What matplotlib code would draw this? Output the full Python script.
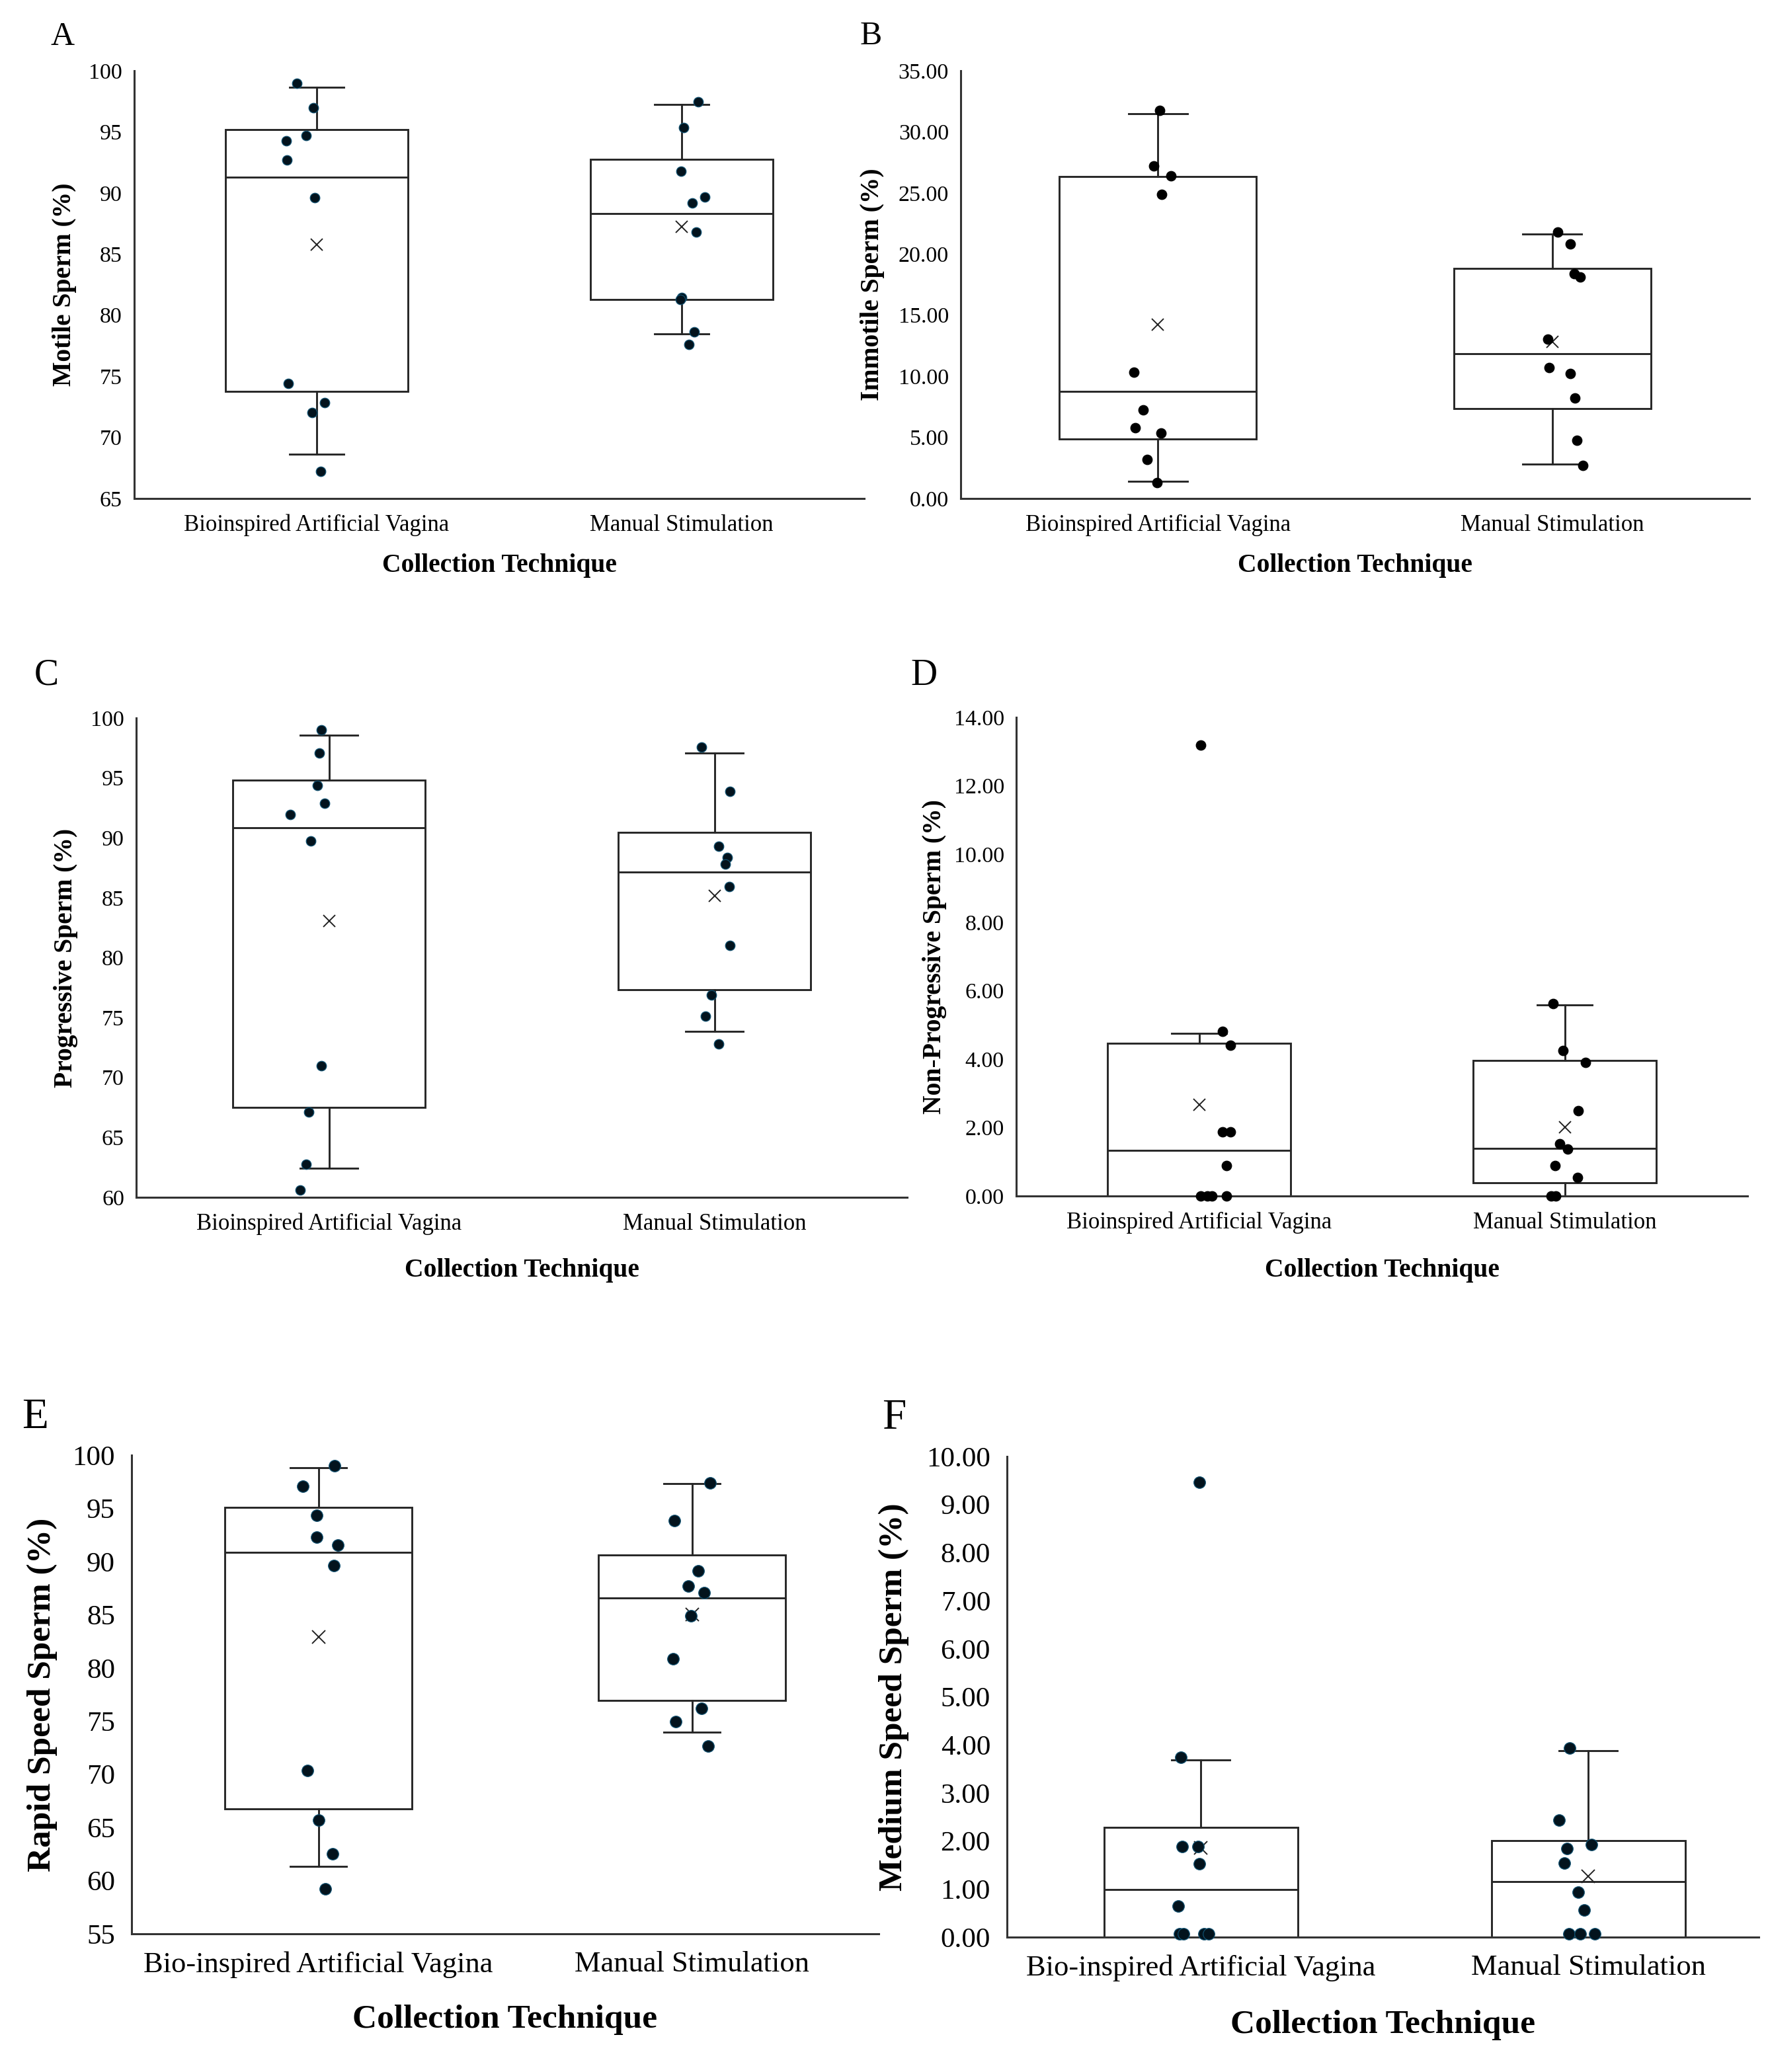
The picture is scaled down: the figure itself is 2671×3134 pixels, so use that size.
import matplotlib
matplotlib.use("Agg")
import matplotlib.pyplot as plt
from matplotlib.ticker import FormatStrFormatter

plt.rcParams["font.family"] = ["Liberation Serif", "DejaVu Serif"]

W, H = 2671, 3134

groups = ["Bioinspired Artificial Vagina", "Manual Stimulation"]
groups_ef = ["Bio-inspired Artificial Vagina", "Manual Stimulation"]

# box stats per group: whisker low, q1, median, q3, whisker high, mean

# A - motile
motile_bav = [98.97, 96.95, 94.28, 94.68, 92.70, 89.59, 74.42, 72.83, 72.02, 67.24]
motile_ms = [97.48, 95.34, 91.76, 89.65, 89.18, 86.79, 81.47, 81.26, 78.61, 77.59]
motile_box_bav = [68.60, 73.76, 91.30, 95.18, 98.66, 85.76]
motile_box_ms = [78.46, 81.26, 88.31, 92.73, 97.23, 87.25]

# B - immotile
immotile_bav = [31.77, 27.20, 26.39, 24.87, 10.32, 7.24, 5.81, 5.38, 3.20, 1.30]
immotile_ms = [21.79, 20.83, 18.37, 18.12, 13.05, 10.72, 10.23, 8.24, 4.75, 2.73]
immotile_box_bav = [1.40, 4.85, 8.76, 26.33, 31.49, 14.24]
immotile_box_ms = [2.83, 7.33, 11.84, 18.80, 21.66, 12.84]

# C - progressive
prog_bav = [99.03, 97.10, 94.38, 92.86, 91.93, 89.72, 71.00, 67.10, 62.76, 60.62]
prog_ms = [97.55, 93.90, 89.31, 88.34, 87.83, 85.93, 81.03, 76.90, 75.10, 72.79]
prog_box_bav = [62.41, 67.52, 90.86, 94.83, 98.59, 83.07]
prog_box_ms = [73.83, 77.31, 87.14, 90.48, 97.10, 85.17]

# D - non-progressive
nonprog_bav = [13.19, 4.81, 4.41, 1.87, 1.87, 0.89, 0.0, 0.0, 0.0, 0.0]
nonprog_ms = [5.62, 4.25, 3.91, 2.49, 1.52, 1.37, 0.89, 0.54, 0.0, 0.0]
nonprog_box_bav = [0.0, 0.0, 1.34, 4.46, 4.75, 2.67]
nonprog_box_ms = [0.0, 0.39, 1.40, 3.96, 5.59, 2.02]

# E - rapid speed
rapid_bav = [99.00, 97.07, 94.32, 92.27, 91.52, 89.59, 70.37, 65.69, 62.52, 59.21]
rapid_ms = [97.41, 93.82, 89.13, 87.67, 87.09, 84.91, 80.86, 76.18, 74.97, 72.63]
rapid_box_bav = [61.35, 66.74, 90.85, 95.07, 98.79, 82.91]
rapid_box_ms = [73.97, 76.97, 86.59, 90.60, 97.33, 85.04]

# F - medium speed
medium_bav = [9.47, 3.74, 1.89, 1.89, 1.52, 0.64, 0.07, 0.07, 0.07, 0.07]
medium_ms = [3.93, 2.44, 1.85, 1.92, 1.54, 0.93, 0.56, 0.07, 0.07, 0.07]
medium_box_bav = [0.0, 0.0, 0.99, 2.29, 3.68, 1.86]
medium_box_ms = [0.0, 0.0, 1.16, 2.01, 3.88, 1.27]

# horizontal jitter of the dots (category units)
jit_motile = ([-0.054, -0.009, -0.084, -0.029, -0.081, -0.006, -0.077, 0.021, -0.012, 0.011],
              [0.045, 0.006, -0.002, 0.063, 0.029, 0.039, 0.0, -0.003, 0.035, 0.02])
jit_immotile = ([0.005, -0.01, 0.033, 0.01, -0.061, -0.037, -0.058, 0.008, -0.027, -0.002],
                [0.014, 0.046, 0.055, 0.07, -0.012, -0.008, 0.045, 0.058, 0.062, 0.077])
jit_prog = ([-0.02, -0.025, -0.03, -0.011, -0.1, -0.047, -0.02, -0.053, -0.06, -0.075],
            [-0.033, 0.041, 0.011, 0.034, 0.028, 0.039, 0.04, -0.008, -0.024, 0.011])
jit_nonprog = ([0.004, 0.064, 0.086, 0.064, 0.086, 0.075, 0.004, 0.022, 0.036, 0.075],
               [-0.031, -0.005, 0.057, 0.037, -0.014, 0.009, -0.026, 0.036, -0.037, -0.025])
jit_rapid = ([0.044, -0.041, -0.005, -0.004, 0.053, 0.041, -0.029, 0.0, 0.038, 0.019],
             [0.048, -0.047, 0.017, -0.009, 0.033, -0.002, -0.051, 0.026, -0.044, 0.044])
jit_medium = ([-0.004, -0.051, -0.048, -0.007, -0.004, -0.058, -0.055, -0.044, 0.008, 0.02],
              [-0.048, -0.075, -0.054, 0.008, -0.061, -0.026, -0.011, -0.05, -0.02, 0.017])

panels = [
    # letter, ylabel, groups, points, boxes, jitter, ylim, step, fmt, axes px box (l, t, r, b), big
    ("A", "Motile Sperm (%)", groups, (motile_bav, motile_ms), (motile_box_bav, motile_box_ms),
     jit_motile, (65, 100), 5, "%d", (203, 107, 1307, 754), False),
    ("B", "Immotile Sperm (%)", groups, (immotile_bav, immotile_ms), (immotile_box_bav, immotile_box_ms),
     jit_immotile, (0, 35), 5, "%.2f", (1453, 107, 2646, 754), False),
    ("C", "Progressive Sperm (%)", groups, (prog_bav, prog_ms), (prog_box_bav, prog_box_ms),
     jit_prog, (60, 100), 5, "%d", (206, 1086, 1372, 1811), False),
    ("D", "Non-Progressive Sperm (%)", groups, (nonprog_bav, nonprog_ms), (nonprog_box_bav, nonprog_box_ms),
     jit_nonprog, (0, 14), 2, "%.2f", (1537, 1085, 2643, 1809), False),
    ("E", "Rapid Speed Sperm (%)", groups_ef, (rapid_bav, rapid_ms), (rapid_box_bav, rapid_box_ms),
     jit_rapid, (55, 100), 5, "%d", (199, 2201, 1329, 2925), True),
    ("F", "Medium Speed Sperm (%)", groups_ef, (medium_bav, medium_ms), (medium_box_bav, medium_box_ms),
     jit_medium, (0, 10), 1, "%.2f", (1523, 2203, 2660, 2930), True),
]

# label anchor positions in pixels: panel letter, y label x, x label centre
letter_xy = {"A": (95, 56), "B": (1317, 55), "C": (70, 1022), "D": (1397, 1022), "E": (53, 2144), "F": (1352, 2145)}
ylabel_x = {"A": 97, "B": 1319, "C": 99, "D": 1414, "E": 64, "F": 1352}
xlabel_y = {"A": 855, "B": 855, "C": 1921, "D": 1921, "E": 3055, "F": 3063}

dark_dots = {"A", "C", "E", "F"}

fig = plt.figure(figsize=(W / 100, H / 100), dpi=100)

for letter, ylab, cats, pts, boxes, jit, ylim, step, fmt, (l, t, r, b), big in panels:
    ax = fig.add_axes([l / W, 1 - b / H, (r - l) / W, (b - t) / H])
    stats = []
    for name, bx in zip(cats, boxes):
        stats.append(dict(label=name, whislo=bx[0], q1=bx[1], med=bx[2], q3=bx[3],
                          whishi=bx[4], mean=bx[5], fliers=[]))
    lw = 2.1
    ax.bxp(stats, positions=[0, 1], widths=0.5, capwidths=0.15, showmeans=True,
           showfliers=False, patch_artist=True,
           boxprops=dict(facecolor="white", edgecolor="#262626", linewidth=lw),
           medianprops=dict(color="#262626", linewidth=lw),
           whiskerprops=dict(color="#262626", linewidth=lw),
           capprops=dict(color="#262626", linewidth=lw),
           meanprops=dict(marker="x", markeredgecolor="#222222", markersize=15 if big else 13,
                          markeredgewidth=1.4))

    dot_size = 160 if big else 110
    if letter in dark_dots:
        fc, ec = "#03131d", "#0f5070"
    else:
        fc, ec = "black", "black"
    for i, (vals, offs) in enumerate(zip(pts, jit)):
        xs = [i + o for o in offs]
        ax.scatter(xs, vals, s=dot_size, facecolor=fc, edgecolor=ec, linewidth=0.9,
                   zorder=5, clip_on=False)

    ax.set_ylim(*ylim)
    ax.set_yticks(list(range(ylim[0], ylim[1] + 1, step)))
    ax.yaxis.set_major_formatter(FormatStrFormatter(fmt))
    if letter == "F":
        ax.set_xlim(-0.5, 1.44)
    else:
        ax.set_xlim(-0.5, 1.5)

    for s in ["top", "right"]:
        ax.spines[s].set_visible(False)
    for s in ["left", "bottom"]:
        ax.spines[s].set_color("#333333")
        ax.spines[s].set_linewidth(2.2)

    tick_fs = 31 if big else 24.5
    xtick_fs = 32 if big else 25
    lab_fs = 37 if big else 28.5
    ax.tick_params(axis="y", length=0, pad=18 if big else 13, labelsize=tick_fs)
    ax.tick_params(axis="x", length=0, pad=19 if big else 17, labelsize=xtick_fs)

    ax.set_xlabel("Collection Technique", fontsize=lab_fs, fontweight="bold")
    ax.xaxis.set_label_coords(((l + r) / 2) / W, 1 - xlabel_y[letter] / H, transform=fig.transFigure)
    ax.xaxis.label.set_verticalalignment("center")
    ax.set_ylabel(ylab, fontsize=lab_fs, fontweight="bold")
    ax.yaxis.set_label_coords(ylabel_x[letter] / W, 1 - ((t + b) / 2) / H, transform=fig.transFigure)
    ax.yaxis.label.set_verticalalignment("center")

    lx, ly = letter_xy[letter]
    letter_fs = {"A": 36, "B": 36, "C": 40, "D": 40, "E": 47, "F": 47}[letter]
    fig.text(lx / W, 1 - ly / H, letter, fontsize=letter_fs, ha="center", va="center")

fig.savefig("out.png", dpi=100, facecolor="white")
